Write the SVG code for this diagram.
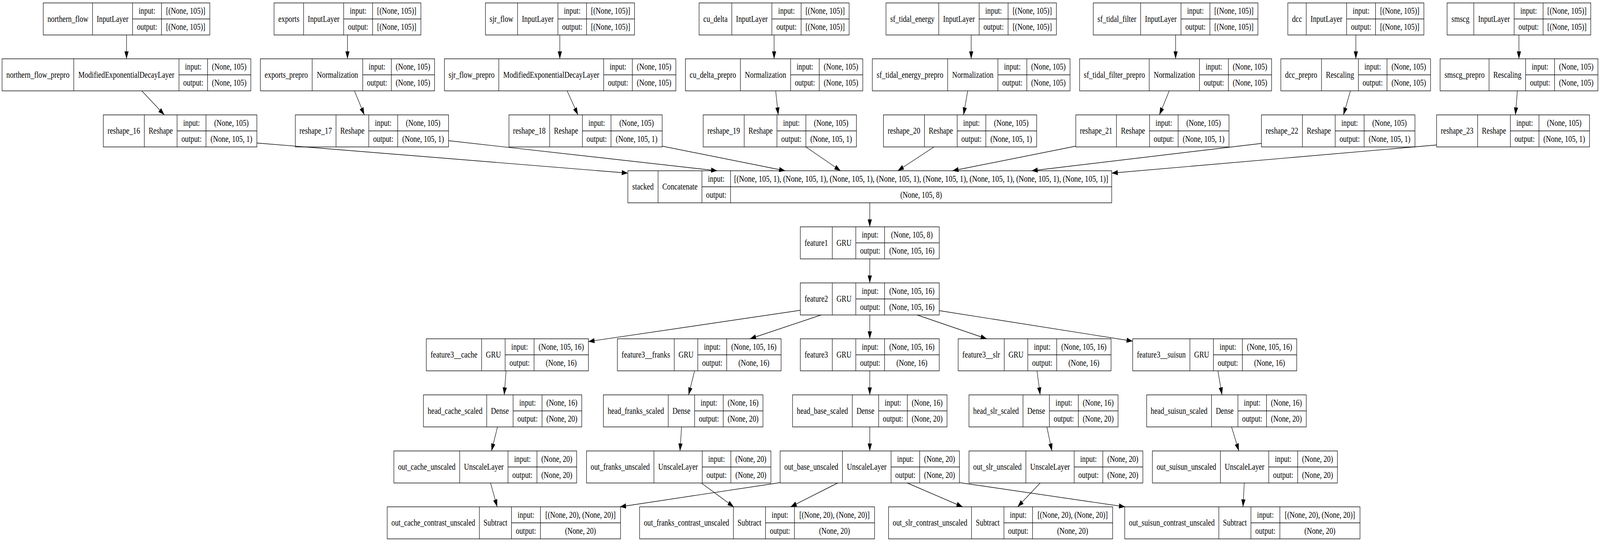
<svg xmlns="http://www.w3.org/2000/svg" width="5033" height="1387" viewBox="0 0 5033 1387" preserveAspectRatio="none">
<style>
svg{width:100vw;height:100vh;display:block}
.n rect{fill:#fff;stroke:#000;stroke-width:1.4}
.n path{fill:none;stroke:#000;stroke-width:1.4}
text{font-family:"Liberation Serif","Times New Roman",serif;font-size:22.5px;text-anchor:middle;fill:#000}
.e path{fill:none;stroke:#000;stroke-width:1.4;marker-end:url(#a)}
</style>
<defs>
<marker id="a" markerUnits="userSpaceOnUse" markerWidth="20" markerHeight="14" refX="19" refY="6.5" orient="auto" overflow="visible"><path d="M0,0L19,6.5L0,13z" fill="#000"/></marker>
</defs>
<rect width="5033" height="1387" fill="#fff"/>

<g id="northern_flow" class="n"><rect x="136" y="7.5" width="524" height="82"/><path d="M291 7.5V89.5M417 7.5V89.5M508 7.5V89.5M417 48.5H660"/><text x="213.5" y="56">northern_flow</text><text x="354" y="56">InputLayer</text><text x="462.5" y="35.5">input:</text><text x="462.5" y="76.5">output:</text><text x="584" y="35.5">[(None, 105)]</text><text x="584" y="76.5">[(None, 105)]</text></g>
<g id="exports" class="n"><rect x="862" y="7.5" width="462" height="82"/><path d="M955 7.5V89.5M1081 7.5V89.5M1172 7.5V89.5M1081 48.5H1324"/><text x="908.5" y="56">exports</text><text x="1018" y="56">InputLayer</text><text x="1126.5" y="35.5">input:</text><text x="1126.5" y="76.5">output:</text><text x="1248" y="35.5">[(None, 105)]</text><text x="1248" y="76.5">[(None, 105)]</text></g>
<g id="sjr_flow" class="n"><rect x="1527" y="7.5" width="469" height="82"/><path d="M1628 7.5V89.5M1755 7.5V89.5M1845 7.5V89.5M1755 48.5H1996"/><text x="1577.5" y="56">sjr_flow</text><text x="1691.5" y="56">InputLayer</text><text x="1800" y="35.5">input:</text><text x="1800" y="76.5">output:</text><text x="1920.5" y="35.5">[(None, 105)]</text><text x="1920.5" y="76.5">[(None, 105)]</text></g>
<g id="cu_delta" class="n"><rect x="2199" y="7.5" width="472" height="82"/><path d="M2302 7.5V89.5M2428 7.5V89.5M2520 7.5V89.5M2428 48.5H2671"/><text x="2250.5" y="56">cu_delta</text><text x="2365" y="56">InputLayer</text><text x="2474" y="35.5">input:</text><text x="2474" y="76.5">output:</text><text x="2595.5" y="35.5">[(None, 105)]</text><text x="2595.5" y="76.5">[(None, 105)]</text></g>
<g id="sf_tidal_energy" class="n"><rect x="2787" y="7.5" width="536" height="82"/><path d="M2953 7.5V89.5M3080 7.5V89.5M3171 7.5V89.5M3080 48.5H3323"/><text x="2870" y="56">sf_tidal_energy</text><text x="3016.5" y="56">InputLayer</text><text x="3125.5" y="35.5">input:</text><text x="3125.5" y="76.5">output:</text><text x="3247" y="35.5">[(None, 105)]</text><text x="3247" y="76.5">[(None, 105)]</text></g>
<g id="sf_tidal_filter" class="n"><rect x="3439" y="7.5" width="518" height="82"/><path d="M3588 7.5V89.5M3715 7.5V89.5M3806 7.5V89.5M3715 48.5H3957"/><text x="3513.5" y="56">sf_tidal_filter</text><text x="3651.5" y="56">InputLayer</text><text x="3760.5" y="35.5">input:</text><text x="3760.5" y="76.5">output:</text><text x="3881.5" y="35.5">[(None, 105)]</text><text x="3881.5" y="76.5">[(None, 105)]</text></g>
<g id="dcc" class="n"><rect x="4051" y="7.5" width="428" height="82"/><path d="M4109 7.5V89.5M4236 7.5V89.5M4327 7.5V89.5M4236 48.5H4479"/><text x="4080" y="56">dcc</text><text x="4172.5" y="56">InputLayer</text><text x="4281.5" y="35.5">input:</text><text x="4281.5" y="76.5">output:</text><text x="4403" y="35.5">[(None, 105)]</text><text x="4403" y="76.5">[(None, 105)]</text></g>
<g id="smscg" class="n"><rect x="4552" y="7.5" width="452" height="82"/><path d="M4636 7.5V89.5M4763 7.5V89.5M4854 7.5V89.5M4763 48.5H5004"/><text x="4594" y="56">smscg</text><text x="4699.5" y="56">InputLayer</text><text x="4808.5" y="35.5">input:</text><text x="4808.5" y="76.5">output:</text><text x="4929" y="35.5">[(None, 105)]</text><text x="4929" y="76.5">[(None, 105)]</text></g>

<g id="northern_flow_prepro" class="n"><rect x="6.5" y="150.5" width="782.5" height="82"/><path d="M232 150.5V232.5M563 150.5V232.5M653 150.5V232.5M563 191.5H789"/><text x="119.25" y="199">northern_flow_prepro</text><text x="397.5" y="199">ModifiedExponentialDecayLayer</text><text x="608" y="178.5">input:</text><text x="608" y="219.5">output:</text><text x="721" y="178.5">(None, 105)</text><text x="721" y="219.5">(None, 105)</text></g>
<g id="exports_prepro" class="n"><rect x="819" y="150.5" width="548" height="82"/><path d="M982 150.5V232.5M1141 150.5V232.5M1231 150.5V232.5M1141 191.5H1367"/><text x="900.5" y="199">exports_prepro</text><text x="1061.5" y="199">Normalization</text><text x="1186" y="178.5">input:</text><text x="1186" y="219.5">output:</text><text x="1299" y="178.5">(None, 105)</text><text x="1299" y="219.5">(None, 105)</text></g>
<g id="sjr_flow_prepro" class="n"><rect x="1398" y="150.5" width="728" height="82"/><path d="M1569 150.5V232.5M1899 150.5V232.5M1989 150.5V232.5M1899 191.5H2126"/><text x="1483.5" y="199">sjr_flow_prepro</text><text x="1734" y="199">ModifiedExponentialDecayLayer</text><text x="1944" y="178.5">input:</text><text x="1944" y="219.5">output:</text><text x="2057.5" y="178.5">(None, 105)</text><text x="2057.5" y="219.5">(None, 105)</text></g>
<g id="cu_delta_prepro" class="n"><rect x="2156" y="150.5" width="558" height="82"/><path d="M2329 150.5V232.5M2487 150.5V232.5M2577 150.5V232.5M2487 191.5H2714"/><text x="2242.5" y="199">cu_delta_prepro</text><text x="2408" y="199">Normalization</text><text x="2532" y="178.5">input:</text><text x="2532" y="219.5">output:</text><text x="2645.5" y="178.5">(None, 105)</text><text x="2645.5" y="219.5">(None, 105)</text></g>
<g id="sf_tidal_energy_prepro" class="n"><rect x="2744" y="150.5" width="622" height="82"/><path d="M2981 150.5V232.5M3139 150.5V232.5M3230 150.5V232.5M3139 191.5H3366"/><text x="2862.5" y="199">sf_tidal_energy_prepro</text><text x="3060" y="199">Normalization</text><text x="3184.5" y="178.5">input:</text><text x="3184.5" y="219.5">output:</text><text x="3298" y="178.5">(None, 105)</text><text x="3298" y="219.5">(None, 105)</text></g>
<g id="sf_tidal_filter_prepro" class="n"><rect x="3396" y="150.5" width="604" height="82"/><path d="M3615 150.5V232.5M3773 150.5V232.5M3864 150.5V232.5M3773 191.5H4000"/><text x="3505.5" y="199">sf_tidal_filter_prepro</text><text x="3694" y="199">Normalization</text><text x="3818.5" y="178.5">input:</text><text x="3818.5" y="219.5">output:</text><text x="3932" y="178.5">(None, 105)</text><text x="3932" y="219.5">(None, 105)</text></g>
<g id="dcc_prepro" class="n"><rect x="4029" y="150.5" width="471" height="82"/><path d="M4157 150.5V232.5M4273 150.5V232.5M4363 150.5V232.5M4273 191.5H4500"/><text x="4093" y="199">dcc_prepro</text><text x="4215" y="199">Rescaling</text><text x="4318" y="178.5">input:</text><text x="4318" y="219.5">output:</text><text x="4431.5" y="178.5">(None, 105)</text><text x="4431.5" y="219.5">(None, 105)</text></g>
<g id="smscg_prepro" class="n"><rect x="4530" y="150.5" width="496.5" height="82"/><path d="M4684 150.5V232.5M4799 150.5V232.5M4890 150.5V232.5M4799 191.5H5026.5"/><text x="4607" y="199">smscg_prepro</text><text x="4741.5" y="199">Rescaling</text><text x="4844.5" y="178.5">input:</text><text x="4844.5" y="219.5">output:</text><text x="4958.25" y="178.5">(None, 105)</text><text x="4958.25" y="219.5">(None, 105)</text></g>

<g id="reshape_16" class="n"><rect x="325" y="294" width="483" height="82"/><path d="M454 294V376M557 294V376M648 294V376M557 335H808"/><text x="389.5" y="342.5">reshape_16</text><text x="505.5" y="342.5">Reshape</text><text x="602.5" y="322">input:</text><text x="602.5" y="363">output:</text><text x="728" y="322">(None, 105)</text><text x="728" y="363">(None, 105, 1)</text></g>
<g id="reshape_17" class="n"><rect x="929" y="294" width="482" height="82"/><path d="M1057 294V376M1160 294V376M1251 294V376M1160 335H1411"/><text x="993" y="342.5">reshape_17</text><text x="1108.5" y="342.5">Reshape</text><text x="1205.5" y="322">input:</text><text x="1205.5" y="363">output:</text><text x="1331" y="322">(None, 105)</text><text x="1331" y="363">(None, 105, 1)</text></g>
<g id="reshape_18" class="n"><rect x="1601" y="294" width="482" height="82"/><path d="M1729 294V376M1832 294V376M1922 294V376M1832 335H2083"/><text x="1665" y="342.5">reshape_18</text><text x="1780.5" y="342.5">Reshape</text><text x="1877" y="322">input:</text><text x="1877" y="363">output:</text><text x="2002.5" y="322">(None, 105)</text><text x="2002.5" y="363">(None, 105, 1)</text></g>
<g id="reshape_19" class="n"><rect x="2212" y="294" width="482" height="82"/><path d="M2341 294V376M2444 294V376M2535 294V376M2444 335H2694"/><text x="2276.5" y="342.5">reshape_19</text><text x="2392.5" y="342.5">Reshape</text><text x="2489.5" y="322">input:</text><text x="2489.5" y="363">output:</text><text x="2614.5" y="322">(None, 105)</text><text x="2614.5" y="363">(None, 105, 1)</text></g>
<g id="reshape_20" class="n"><rect x="2779" y="294" width="482" height="82"/><path d="M2908 294V376M3011 294V376M3101 294V376M3011 335H3261"/><text x="2843.5" y="342.5">reshape_20</text><text x="2959.5" y="342.5">Reshape</text><text x="3056" y="322">input:</text><text x="3056" y="363">output:</text><text x="3181" y="322">(None, 105)</text><text x="3181" y="363">(None, 105, 1)</text></g>
<g id="reshape_21" class="n"><rect x="3384" y="294" width="482" height="82"/><path d="M3512 294V376M3616 294V376M3706 294V376M3616 335H3866"/><text x="3448" y="342.5">reshape_21</text><text x="3564" y="342.5">Reshape</text><text x="3661" y="322">input:</text><text x="3661" y="363">output:</text><text x="3786" y="322">(None, 105)</text><text x="3786" y="363">(None, 105, 1)</text></g>
<g id="reshape_22" class="n"><rect x="3968" y="294" width="483" height="82"/><path d="M4097 294V376M4200 294V376M4291 294V376M4200 335H4451"/><text x="4032.5" y="342.5">reshape_22</text><text x="4148.5" y="342.5">Reshape</text><text x="4245.5" y="322">input:</text><text x="4245.5" y="363">output:</text><text x="4371" y="322">(None, 105)</text><text x="4371" y="363">(None, 105, 1)</text></g>
<g id="reshape_23" class="n"><rect x="4519" y="294" width="481" height="82"/><path d="M4648 294V376M4751 294V376M4841 294V376M4751 335H5000"/><text x="4583.5" y="342.5">reshape_23</text><text x="4699.5" y="342.5">Reshape</text><text x="4796" y="322">input:</text><text x="4796" y="363">output:</text><text x="4920.5" y="322">(None, 105)</text><text x="4920.5" y="363">(None, 105, 1)</text></g>

<g id="stacked" class="n"><rect x="1975" y="437" width="1522" height="82"/><path d="M2070 437V519M2208 437V519M2298 437V519M2208 478H3497"/><text x="2022.5" y="485.5">stacked</text><text x="2139" y="485.5">Concatenate</text><text x="2253" y="465">input:</text><text x="2253" y="506">output:</text><text x="2897.5" y="465" textLength="1177" lengthAdjust="spacingAndGlyphs">[(None, 105, 1), (None, 105, 1), (None, 105, 1), (None, 105, 1), (None, 105, 1), (None, 105, 1), (None, 105, 1), (None, 105, 1)]</text><text x="2897.5" y="506">(None, 105, 8)</text></g>

<g id="feature1" class="n"><rect x="2517.5" y="580.5" width="437" height="82"/><path d="M2618 580.5V662.5M2692 580.5V662.5M2782.5 580.5V662.5M2692 621.5H2954.5"/><text x="2567.75" y="629">feature1</text><text x="2655" y="629">GRU</text><text x="2737.25" y="608.5">input:</text><text x="2737.25" y="649.5">output:</text><text x="2868.5" y="608.5">(None, 105, 8)</text><text x="2868.5" y="649.5">(None, 105, 16)</text></g>
<g id="feature2" class="n"><rect x="2517.5" y="724" width="437" height="82"/><path d="M2618 724V806M2692 724V806M2782.5 724V806M2692 765H2954.5"/><text x="2567.75" y="772.5">feature2</text><text x="2655" y="772.5">GRU</text><text x="2737.25" y="752">input:</text><text x="2737.25" y="793">output:</text><text x="2868.5" y="752">(None, 105, 16)</text><text x="2868.5" y="793">(None, 105, 16)</text></g>

<g id="feature3__cache" class="n"><rect x="1341" y="867" width="510" height="82"/><path d="M1515 867V949M1589 867V949M1680 867V949M1589 908H1851"/><text x="1428" y="915.5">feature3__cache</text><text x="1552" y="915.5">GRU</text><text x="1634.5" y="895">input:</text><text x="1634.5" y="936">output:</text><text x="1765.5" y="895">(None, 105, 16)</text><text x="1765.5" y="936">(None, 16)</text></g>
<g id="feature3__franks" class="n"><rect x="1942" y="867" width="515" height="82"/><path d="M2121 867V949M2195 867V949M2286 867V949M2195 908H2457"/><text x="2031.5" y="915.5">feature3__franks</text><text x="2158" y="915.5">GRU</text><text x="2240.5" y="895">input:</text><text x="2240.5" y="936">output:</text><text x="2371.5" y="895">(None, 105, 16)</text><text x="2371.5" y="936">(None, 16)</text></g>
<g id="feature3" class="n"><rect x="2517.5" y="867" width="437" height="82"/><path d="M2618 867V949M2692 867V949M2782.5 867V949M2692 908H2954.5"/><text x="2567.75" y="915.5">feature3</text><text x="2655" y="915.5">GRU</text><text x="2737.25" y="895">input:</text><text x="2737.25" y="936">output:</text><text x="2868.5" y="895">(None, 105, 16)</text><text x="2868.5" y="936">(None, 16)</text></g>
<g id="feature3__slr" class="n"><rect x="3014" y="867" width="481" height="82"/><path d="M3159 867V949M3233 867V949M3324 867V949M3233 908H3495"/><text x="3086.5" y="915.5">feature3__slr</text><text x="3196" y="915.5">GRU</text><text x="3278.5" y="895">input:</text><text x="3278.5" y="936">output:</text><text x="3409.5" y="895">(None, 105, 16)</text><text x="3409.5" y="936">(None, 16)</text></g>
<g id="feature3__suisun" class="n"><rect x="3563" y="867" width="516" height="82"/><path d="M3743 867V949M3817 867V949M3908 867V949M3817 908H4079"/><text x="3653" y="915.5">feature3__suisun</text><text x="3780" y="915.5">GRU</text><text x="3862.5" y="895">input:</text><text x="3862.5" y="936">output:</text><text x="3993.5" y="895">(None, 105, 16)</text><text x="3993.5" y="936">(None, 16)</text></g>

<g id="head_cache_scaled" class="n"><rect x="1332" y="1010.5" width="498" height="82"/><path d="M1531 1010.5V1092.5M1614 1010.5V1092.5M1705 1010.5V1092.5M1614 1051.5H1830"/><text x="1431.5" y="1059">head_cache_scaled</text><text x="1572.5" y="1059">Dense</text><text x="1659.5" y="1038.5">input:</text><text x="1659.5" y="1079.5">output:</text><text x="1767.5" y="1038.5">(None, 16)</text><text x="1767.5" y="1079.5">(None, 20)</text></g>
<g id="head_franks_scaled" class="n"><rect x="1898" y="1010.5" width="502" height="82"/><path d="M2102 1010.5V1092.5M2185 1010.5V1092.5M2275 1010.5V1092.5M2185 1051.5H2400"/><text x="2000" y="1059">head_franks_scaled</text><text x="2143.5" y="1059">Dense</text><text x="2230" y="1038.5">input:</text><text x="2230" y="1079.5">output:</text><text x="2337.5" y="1038.5">(None, 16)</text><text x="2337.5" y="1079.5">(None, 20)</text></g>
<g id="head_base_scaled" class="n"><rect x="2493" y="1010.5" width="486" height="82"/><path d="M2681 1010.5V1092.5M2764 1010.5V1092.5M2854 1010.5V1092.5M2764 1051.5H2979"/><text x="2587" y="1059">head_base_scaled</text><text x="2722.5" y="1059">Dense</text><text x="2809" y="1038.5">input:</text><text x="2809" y="1079.5">output:</text><text x="2916.5" y="1038.5">(None, 16)</text><text x="2916.5" y="1079.5">(None, 20)</text></g>
<g id="head_slr_scaled" class="n"><rect x="3048" y="1010.5" width="469" height="82"/><path d="M3218 1010.5V1092.5M3301 1010.5V1092.5M3392 1010.5V1092.5M3301 1051.5H3517"/><text x="3133" y="1059">head_slr_scaled</text><text x="3259.5" y="1059">Dense</text><text x="3346.5" y="1038.5">input:</text><text x="3346.5" y="1079.5">output:</text><text x="3454.5" y="1038.5">(None, 16)</text><text x="3454.5" y="1079.5">(None, 20)</text></g>
<g id="head_suisun_scaled" class="n"><rect x="3607" y="1010.5" width="502" height="82"/><path d="M3811 1010.5V1092.5M3894 1010.5V1092.5M3984 1010.5V1092.5M3894 1051.5H4109"/><text x="3709" y="1059">head_suisun_scaled</text><text x="3852.5" y="1059">Dense</text><text x="3939" y="1038.5">input:</text><text x="3939" y="1079.5">output:</text><text x="4046.5" y="1038.5">(None, 16)</text><text x="4046.5" y="1079.5">(None, 20)</text></g>

<g id="out_cache_unscaled" class="n"><rect x="1239" y="1154" width="575" height="82"/><path d="M1446 1154V1236M1598 1154V1236M1689 1154V1236M1598 1195H1814"/><text x="1342.5" y="1202.5">out_cache_unscaled</text><text x="1522" y="1202.5">UnscaleLayer</text><text x="1643.5" y="1182">input:</text><text x="1643.5" y="1223">output:</text><text x="1751.5" y="1182">(None, 20)</text><text x="1751.5" y="1223">(None, 20)</text></g>
<g id="out_franks_unscaled" class="n"><rect x="1845" y="1154" width="580" height="82"/><path d="M2057 1154V1236M2209 1154V1236M2299 1154V1236M2209 1195H2425"/><text x="1951" y="1202.5">out_franks_unscaled</text><text x="2133" y="1202.5">UnscaleLayer</text><text x="2254" y="1182">input:</text><text x="2254" y="1223">output:</text><text x="2362" y="1182">(None, 20)</text><text x="2362" y="1223">(None, 20)</text></g>
<g id="out_base_unscaled" class="n"><rect x="2454" y="1154" width="564" height="82"/><path d="M2650 1154V1236M2803 1154V1236M2893 1154V1236M2803 1195H3018"/><text x="2552" y="1202.5">out_base_unscaled</text><text x="2726.5" y="1202.5">UnscaleLayer</text><text x="2848" y="1182">input:</text><text x="2848" y="1223">output:</text><text x="2955.5" y="1182">(None, 20)</text><text x="2955.5" y="1223">(None, 20)</text></g>
<g id="out_slr_unscaled" class="n"><rect x="3048" y="1154" width="547" height="82"/><path d="M3227 1154V1236M3379 1154V1236M3469 1154V1236M3379 1195H3595"/><text x="3137.5" y="1202.5">out_slr_unscaled</text><text x="3303" y="1202.5">UnscaleLayer</text><text x="3424" y="1182">input:</text><text x="3424" y="1223">output:</text><text x="3532" y="1182">(None, 20)</text><text x="3532" y="1223">(None, 20)</text></g>
<g id="out_suisun_unscaled" class="n"><rect x="3625" y="1154" width="582" height="82"/><path d="M3839 1154V1236M3991 1154V1236M4082 1154V1236M3991 1195H4207"/><text x="3732" y="1202.5">out_suisun_unscaled</text><text x="3915" y="1202.5">UnscaleLayer</text><text x="4036.5" y="1182">input:</text><text x="4036.5" y="1223">output:</text><text x="4144.5" y="1182">(None, 20)</text><text x="4144.5" y="1223">(None, 20)</text></g>

<g id="out_cache_contrast_unscaled" class="n"><rect x="1218" y="1297" width="734" height="82"/><path d="M1508 1297V1379M1609 1297V1379M1700 1297V1379M1609 1338H1952"/><text x="1363" y="1345.5">out_cache_contrast_unscaled</text><text x="1558.5" y="1345.5">Subtract</text><text x="1654.5" y="1325">input:</text><text x="1654.5" y="1366">output:</text><text x="1826" y="1325">[(None, 20), (None, 20)]</text><text x="1826" y="1366">(None, 20)</text></g>
<g id="out_franks_contrast_unscaled" class="n"><rect x="2012" y="1297" width="739" height="82"/><path d="M2307 1297V1379M2408 1297V1379M2499 1297V1379M2408 1338H2751"/><text x="2159.5" y="1345.5">out_franks_contrast_unscaled</text><text x="2357.5" y="1345.5">Subtract</text><text x="2453.5" y="1325">input:</text><text x="2453.5" y="1366">output:</text><text x="2625" y="1325">[(None, 20), (None, 20)]</text><text x="2625" y="1366">(None, 20)</text></g>
<g id="out_slr_contrast_unscaled" class="n"><rect x="2795" y="1297" width="705" height="82"/><path d="M3056 1297V1379M3158 1297V1379M3248 1297V1379M3158 1338H3500"/><text x="2925.5" y="1345.5">out_slr_contrast_unscaled</text><text x="3107" y="1345.5">Subtract</text><text x="3203" y="1325">input:</text><text x="3203" y="1366">output:</text><text x="3374" y="1325">[(None, 20), (None, 20)]</text><text x="3374" y="1366">(None, 20)</text></g>
<g id="out_suisun_contrast_unscaled" class="n"><rect x="3538" y="1297" width="740" height="82"/><path d="M3834 1297V1379M3935 1297V1379M4026 1297V1379M3935 1338H4278"/><text x="3686" y="1345.5">out_suisun_contrast_unscaled</text><text x="3884.5" y="1345.5">Subtract</text><text x="3980.5" y="1325">input:</text><text x="3980.5" y="1366">output:</text><text x="4152" y="1325">[(None, 20), (None, 20)]</text><text x="4152" y="1366">(None, 20)</text></g>

<g id="connectors" class="e">
<path d="M398 89.5L398 150.5"/>
<path d="M1093 89.5L1093 150.5"/>
<path d="M1761 89.5L1761 150.5"/>
<path d="M2435 89.5L2435 150.5"/>
<path d="M3055 89.5L3055 150.5"/>
<path d="M3698 89.5L3698 150.5"/>
<path d="M4265 89.5L4265 150.5"/>
<path d="M4778 89.5L4778 150.5"/>
<path d="M446 232.5L517 294"/>
<path d="M1115 232.5L1146 294"/>
<path d="M1784 232.5L1818 294"/>
<path d="M2440 232.5L2448 294"/>
<path d="M3044 232.5L3031 294"/>
<path d="M3678 232.5L3647 294"/>
<path d="M4248 232.5L4226 294"/>
<path d="M4773 232.5L4767 294"/>
<path d="M808 366L1975 443"/>
<path d="M1411 360L2256 437"/>
<path d="M2083 374L2470 437"/>
<path d="M2535 376L2644 437"/>
<path d="M2938 376L2824 437"/>
<path d="M3384 374L2996 437"/>
<path d="M3968 367L3245 437"/>
<path d="M4519 371L3497 443"/>
<path d="M2736 519L2736 580.5"/>
<path d="M2736 662.5L2736 724"/>
<path d="M2518 794L1851 874"/>
<path d="M2583 806L2359 867"/>
<path d="M2736 806L2736 867"/>
<path d="M2885 806L3104 867"/>
<path d="M2955 795L3563 873"/>
<path d="M1592 949L1586 1010.5"/>
<path d="M2185 949L2166 1010.5"/>
<path d="M2736 949L2736 1010.5"/>
<path d="M3262 949L3272 1010.5"/>
<path d="M3831 949L3844 1010.5"/>
<path d="M1565 1092.5L1546 1154"/>
<path d="M2144 1092.5L2139 1154"/>
<path d="M2736 1092.5L2736 1154"/>
<path d="M3293 1092.5L3309 1154"/>
<path d="M3874 1092.5L3897 1154"/>
<path d="M1543 1236L1564 1297"/>
<path d="M2206 1236L2308 1297"/>
<path d="M3272 1236L3201 1297"/>
<path d="M3914 1236L3910 1297"/>
<path d="M2454 1235L1950 1297"/>
<path d="M2635 1236L2487 1297"/>
<path d="M2854 1236L3028 1297"/>
<path d="M3018 1235L3539 1297"/>
</g>
</svg>
